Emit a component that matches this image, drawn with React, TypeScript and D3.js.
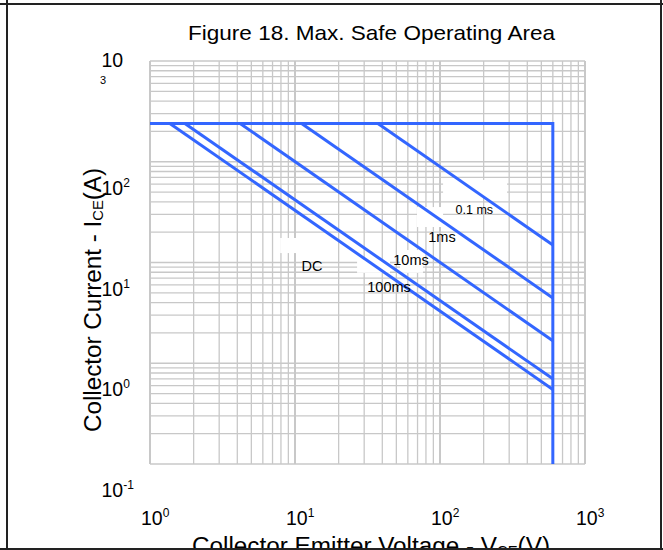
import React from "react";
import * as d3 from "d3";

// SOA boundary
const currentLimit = 240; // A, flat top line
const voltageLimit = 600; // V, vertical right line
const curveLabels = ["DC", "100ms", "10ms", "1ms", "0.1 ms"];
const curveStartV = [1.37, 1.74, 4.18, 11.1, 37.3];
const curveEndI = [0.55, 0.7, 1.67, 4.45, 14.9];

const xDecades = [1, 10, 100, 1000];
const xExponents = ["0", "1", "2", "3"];
const yDecades = [0.1, 1, 10, 100];
const yExponents = ["-1", "0", "1", "2"];

const W = 663;
const H = 550;
const blue = "#3366ff";
const gridColor = "#c8c8c8";
const font = "'Liberation Sans', Arial, Helvetica, sans-serif";

function minorTicks(lo: number, hi: number) {
  const out: number[] = [];
  for (let d = lo; d < hi; d *= 10) {
    for (let k = 1; k <= 9; k++) out.push(d * k);
  }
  out.push(hi);
  return out;
}

const App = () => {
  const x = d3.scaleLog().domain([1, 1000]).range([150, 585]);
  const y = d3.scaleLog().domain([0.1, 1000]).range([464, 61]);

  const line = d3
    .line<[number, number]>()
    .x((d) => x(d[0]))
    .y((d) => y(d[1]));

  const xGrid = minorTicks(1, 1000);
  const yGrid = minorTicks(0.1, 1000);

  // label anchors (V, A) next to each curve
  const labelAt: [number, number][] = [
    [11.1, 8.3],
    [31.5, 5.13],
    [47.6, 9.45],
    [83, 16],
    [128, 30.3],
  ];
  const labelSize = [14.5, 14.5, 14.5, 14.5, 12.5];

  // white patches behind the labels (V0, I0, V1, I1)
  const whiteBoxes: [number, number, number, number][] = [
    [105, 66, 290, 44.7],
    [69.4, 35.5, 105, 22.5],
    [53, 13.3, 76.3, 7.9],
    [7.9, 17.5, 19.8, 12.4],
    [26.8, 10.6, 45.2, 7.9],
  ];

  return (
    <svg
      width={W}
      height={H}
      style={{ position: "absolute", left: 0, top: 0, background: "#fff" }}
      fontFamily={font}
    >
      <rect x={0} y={0} width={W} height={H} fill="#fff" />
      <text x={371.5} y={40} fontSize={21} textAnchor="middle" textLength={367} lengthAdjust="spacingAndGlyphs">
        Figure 18. Max. Safe Operating Area
      </text>

      {/* grid */}
      <g stroke={gridColor} strokeWidth={1.3}>
        {xGrid.map((v, i) => (
          <line key={"gx" + i} x1={x(v)} x2={x(v)} y1={y(1000)} y2={y(0.1)} strokeWidth={xDecades.includes(v) ? 2 : 1.3} />
        ))}
        {yGrid.map((v, i) => (
          <line key={"gy" + i} x1={x(1)} x2={x(1000)} y1={y(v)} y2={y(v)} />
        ))}
      </g>

      {/* label backgrounds */}
      {whiteBoxes.map((b, i) => (
        <rect key={"wb" + i} x={x(b[0])} y={y(b[1])} width={x(b[2]) - x(b[0])} height={y(b[3]) - y(b[1])} fill="#fff" />
      ))}

      {/* SOA boundaries */}
      <path
        d={line([
          [1, currentLimit],
          [voltageLimit, currentLimit],
          [voltageLimit, 0.1],
        ])!}
        fill="none"
        stroke={blue}
        strokeWidth={3}
      />
      {curveStartV.map((v, i) => (
        <path
          key={"c" + i}
          d={line([
            [v, currentLimit],
            [voltageLimit, curveEndI[i]],
          ])!}
          fill="none"
          stroke={blue}
          strokeWidth={3}
        />
      ))}
      {curveLabels.map((t, i) => (
        <text key={"l" + i} x={x(labelAt[i][0])} y={y(labelAt[i][1])} fontSize={labelSize[i]}>
          {t}
        </text>
      ))}

      {/* y tick labels */}
      <text x={101.5} y={67} fontSize={19.5}>10</text>
      <text x={100} y={84} fontSize={11}>3</text>
      {yDecades.map((v, i) => (
        <text key={"yt" + i} x={101.5} y={y(v) + 33} fontSize={19.5}>
          10
          <tspan dy={-8} fontSize={12}>{yExponents[i]}</tspan>
        </text>
      ))}

      {/* x tick labels */}
      {xDecades.map((v, i) => (
        <text key={"xt" + i} x={x(v) - 9} y={525} fontSize={19.5}>
          10
          <tspan dy={-8} fontSize={12}>{xExponents[i]}</tspan>
        </text>
      ))}

      {/* axis titles */}
      <text transform="translate(101,300) rotate(-90)" fontSize={23} textAnchor="middle" textLength={264} lengthAdjust="spacingAndGlyphs">
        Collector Current - I<tspan fontSize={14} dy={2}>CE</tspan>
        <tspan dy={-2}>(A)</tspan>
      </text>
      <text x={371} y={553.5} fontSize={23} textAnchor="middle" textLength={358} lengthAdjust="spacingAndGlyphs">
        Collector Emitter Voltage - V<tspan fontSize={14} dy={2}>CE</tspan>
        <tspan dy={-2}>(V)</tspan>
      </text>

      {/* outer frame */}
      <rect x={0} y={549} width={W} height={1} fill="#fff" />
      <g stroke="#222" strokeWidth={2}>
        <line x1={0} x2={W} y1={4} y2={4} />
        <line x1={0} x2={W} y1={549} y2={549} />
        <line x1={7} x2={7} y1={0} y2={H} />
        <line x1={661} x2={661} y1={0} y2={H} />
      </g>
    </svg>
  );
};

export default App;
